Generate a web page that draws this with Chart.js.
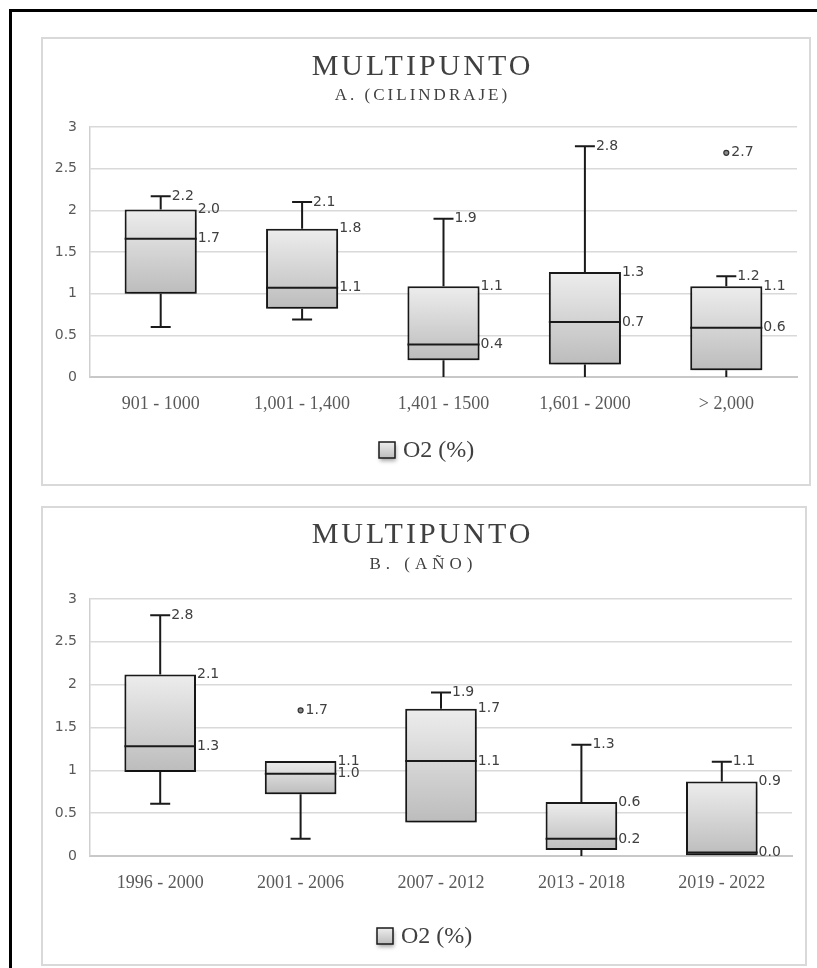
<!DOCTYPE html>
<html>
<head>
<meta charset="utf-8">
<script src="https://cdn.jsdelivr.net/npm/chart.js@4/dist/chart.umd.min.js"></script>
<style>
  html, body { margin: 0; padding: 0; background: #fff; }
  body { width: 817px; height: 968px; position: relative; overflow: hidden; }
  .frame { position: absolute; left: 9px; top: 9px; width: 900px; height: 1000px; border: 3px solid #000; box-sizing: border-box; }
  .panel { position: absolute; border: 2px solid #d9d9d9; box-sizing: border-box; background: #fff; }
  canvas { position: absolute; }
</style>
</head>
<body>
<div class="frame"></div>
<div class="panel" style="left:41px;top:37px;width:770px;height:449px"></div>
<canvas id="chartCilindraje" width="770" height="449" style="left:41px;top:37px"></canvas>
<div class="panel" style="left:41px;top:506px;width:766px;height:460px"></div>
<canvas id="chartAno" width="766" height="462" style="left:41px;top:506px"></canvas>

<script>
// ---- Series: O2 (%) distribution, multipoint injection ----
const seriesName = 'O2 (%)';

// A. by engine displacement
const cilCategories = ['901 - 1000', '1,001 - 1,400', '1,401 - 1500', '1,601 - 2000', '> 2,000'];
const cilMin     = [0.60, 0.69, 0.00, 0.00, 0.00];
const cilQ1      = [1.00, 0.82, 0.20, 0.15, 0.08];
const cilMedian  = [1.66, 1.07, 0.39, 0.66, 0.59];
const cilQ3      = [2.01, 1.78, 1.09, 1.26, 1.09];
const cilMax     = [2.17, 2.10, 1.90, 2.77, 1.21];
const cilOutlier = [null, null, null, null, 2.69];

// B. by model year
const anoCategories = ['1996 - 2000', '2001 - 2006', '2007 - 2012', '2013 - 2018', '2019 - 2022'];
const anoMin     = [0.61, 0.20, 0.39, 0.00, 0.00];
const anoQ1      = [0.98, 0.72, 0.39, 0.07, 0.00];
const anoMedian  = [1.28, 0.96, 1.11, 0.20, 0.04];
const anoQ3      = [2.12, 1.11, 1.72, 0.63, 0.87];
const anoMax     = [2.81, 1.11, 1.91, 1.30, 1.10];
const anoOutlier = [null, 1.70, null, null, null];

const yTickMin = 0, yTickMax = 3, yTickStep = 0.5;

const SERIF = '"Liberation Serif", "Times New Roman", serif';
const SANS = '"DejaVu Sans", Verdana, sans-serif';
const INK = '#1a1a1a';
const TEXT = '#404040';

function boxGradient(ctx, top, bottom) {
  const g = ctx.createLinearGradient(0, top, 0, Math.max(bottom, top + 1));
  g.addColorStop(0, '#ededed');
  g.addColorStop(1, '#bcbcbc');
  return g;
}

function spacedText(ctx, text, x, y, spacing) {
  ctx.letterSpacing = spacing + 'px';
  ctx.fillText(text, x + spacing / 2, y);
  ctx.letterSpacing = '0px';
}

// Whiskers, medians, value labels, titles and the legend for one box plot
function boxPlotPlugin(s) {
  return {
    id: 'boxPlot',
    beforeDatasetsDraw(chart) {
      const { ctx, scales: { y } } = chart;
      const bars = chart.getDatasetMeta(0).data;
      ctx.save();
      ctx.strokeStyle = INK;
      ctx.lineWidth = 2;
      bars.forEach((bar, i) => {
        const cx = bar.x;
        const yMax = y.getPixelForValue(s.max[i]);
        const yQ3 = y.getPixelForValue(s.q3[i]);
        const yQ1 = y.getPixelForValue(s.q1[i]);
        const yMin = y.getPixelForValue(s.min[i]);
        ctx.beginPath();
        if (s.max[i] > s.q3[i]) {
          ctx.moveTo(cx, yQ3); ctx.lineTo(cx, yMax);
          ctx.moveTo(cx - 10, yMax); ctx.lineTo(cx + 10, yMax);
        }
        if (s.min[i] < s.q1[i]) {
          ctx.moveTo(cx, yQ1); ctx.lineTo(cx, yMin);
          if (s.min[i] > 0) { ctx.moveTo(cx - 10, yMin); ctx.lineTo(cx + 10, yMin); }
        }
        ctx.stroke();
      });
      ctx.restore();
    },
    beforeDatasetDraw(chart, args) {
      if (args.index !== 0) return;
      const ctx = chart.ctx;
      ctx.save();
      ctx.shadowColor = 'rgba(0,0,0,0.35)';
      ctx.shadowBlur = 6;
      ctx.shadowOffsetX = 1;
      ctx.shadowOffsetY = 4;
    },
    afterDatasetDraw(chart, args) {
      if (args.index !== 0) return;
      chart.ctx.restore();
    },
    afterDatasetsDraw(chart) {
      const { ctx, scales: { y } } = chart;
      const bars = chart.getDatasetMeta(0).data;
      ctx.save();
      ctx.strokeStyle = INK;
      ctx.lineWidth = 2;
      bars.forEach((bar, i) => {
        const half = bar.width / 2;
        const yMed = y.getPixelForValue(s.median[i]);
        ctx.beginPath();
        ctx.moveTo(bar.x - half, yMed); ctx.lineTo(bar.x + half, yMed);
        ctx.stroke();
      });
      ctx.font = '14px ' + SANS;
      ctx.fillStyle = TEXT;
      ctx.textBaseline = 'middle';
      ctx.textAlign = 'left';
      bars.forEach((bar, i) => {
        const right = bar.x + bar.width / 2;
        if (s.max[i] > s.q3[i]) ctx.fillText(s.max[i].toFixed(1), bar.x + 11, y.getPixelForValue(s.max[i]));
        ctx.fillText(s.q3[i].toFixed(1), right + 1, y.getPixelForValue(s.q3[i]));
        ctx.fillText(s.median[i].toFixed(1), right + 1, y.getPixelForValue(s.median[i]));
        if (s.outlier[i] !== null) ctx.fillText(s.outlier[i].toFixed(1), bar.x + 5, y.getPixelForValue(s.outlier[i]));
      });
      ctx.restore();
    },
    afterDraw(chart) {
      const ctx = chart.ctx;
      ctx.save();
      ctx.fillStyle = TEXT;
      ctx.textAlign = 'center';
      ctx.textBaseline = 'middle';
      ctx.font = '30px ' + SERIF;
      spacedText(ctx, s.title, s.titleX, s.titleY, 3);
      ctx.font = '17px ' + SERIF;
      spacedText(ctx, s.subtitle, s.titleX, s.subtitleY, s.subtitleSpacing);

      // legend entry
      const bx = s.legendX, by = s.legendY - 8;
      ctx.save();
      ctx.shadowColor = 'rgba(0,0,0,0.35)';
      ctx.shadowBlur = 4;
      ctx.shadowOffsetX = 1;
      ctx.shadowOffsetY = 3;
      ctx.fillStyle = boxGradient(ctx, by, by + 16);
      ctx.fillRect(bx, by, 16, 16);
      ctx.restore();
      ctx.strokeStyle = INK;
      ctx.lineWidth = 1.5;
      ctx.strokeRect(bx, by, 16, 16);
      ctx.textAlign = 'left';
      ctx.fillStyle = TEXT;
      ctx.font = '24px ' + SERIF;
      ctx.fillText(seriesName, bx + 24, s.legendY + 1);
      ctx.restore();
    }
  };
}

function makeBoxChart(canvasId, s) {
  const boxes = s.q1.map((lo, i) => [lo, s.q3[i]]);
  return new Chart(document.getElementById(canvasId), {
    data: {
      labels: s.categories,
      datasets: [
        {
          type: 'bar',
          label: seriesName,
          data: boxes,
          backgroundColor(c) {
            const { chartArea, scales } = c.chart;
            if (!chartArea || c.dataIndex === undefined) return '#d4d4d4';
            const top = scales.y.getPixelForValue(s.q3[c.dataIndex]);
            const bottom = scales.y.getPixelForValue(s.q1[c.dataIndex]);
            return boxGradient(c.chart.ctx, top, bottom);
          },
          borderColor: INK,
          borderWidth: 2,
          borderSkipped: false,
          categoryPercentage: 1,
          barPercentage: 0.51
        },
        {
          type: 'line',
          label: seriesName + ' outliers',
          data: s.outlier,
          showLine: false,
          pointRadius: 2.5,
          pointBackgroundColor: '#8a8a8a',
          pointBorderColor: '#333',
          pointBorderWidth: 1.2
        }
      ]
    },
    options: {
      responsive: false,
      animation: false,
      devicePixelRatio: 1,
      layout: { padding: s.padding },
      plugins: {
        legend: { display: false },
        title: { display: false },
        tooltip: { enabled: false }
      },
      scales: {
        x: {
          offset: true,
          grid: { display: false, drawTicks: false },
          border: { display: true, color: '#c8c8c8', width: 2 },
          ticks: { color: '#595959', font: { family: SERIF, size: 18 }, padding: s.xTickPadding, maxRotation: 0 },
          afterFit(scale) { scale.height = 50; }
        },
        y: {
          min: yTickMin,
          max: yTickMax,
          grid: { color: '#d9d9d9', lineWidth: 1.5, drawTicks: false },
          border: { display: true, color: '#d0d0d0', width: 1.5 },
          ticks: {
            stepSize: yTickStep,
            color: '#595959',
            font: { family: SANS, size: 14 },
            padding: 13,
            callback: (v) => String(v)
          },
          afterFit(scale) { scale.width = 49; }
        }
      }
    },
    plugins: [boxPlotPlugin(s)]
  });
}

makeBoxChart('chartCilindraje', {
  title: 'MULTIPUNTO', subtitle: 'A. (CILINDRAJE)', subtitleSpacing: 3,
  categories: cilCategories,
  min: cilMin, q1: cilQ1, median: cilMedian, q3: cilQ3, max: cilMax, outlier: cilOutlier,
  padding: { left: 0, right: 14, top: 90, bottom: 59 },
  xTickPadding: 16,
  titleX: 380, titleY: 30, subtitleY: 59,
  legendX: 338, legendY: 413
});

makeBoxChart('chartAno', {
  title: 'MULTIPUNTO', subtitle: 'B. (AÑO)', subtitleSpacing: 5,
  categories: anoCategories,
  min: anoMin, q1: anoQ1, median: anoMedian, q3: anoQ3, max: anoMax, outlier: anoOutlier,
  padding: { left: 0, right: 15, top: 93, bottom: 62 },
  xTickPadding: 16,
  titleX: 380, titleY: 29, subtitleY: 59,
  legendX: 336, legendY: 430
});
</script>
</body>
</html>
